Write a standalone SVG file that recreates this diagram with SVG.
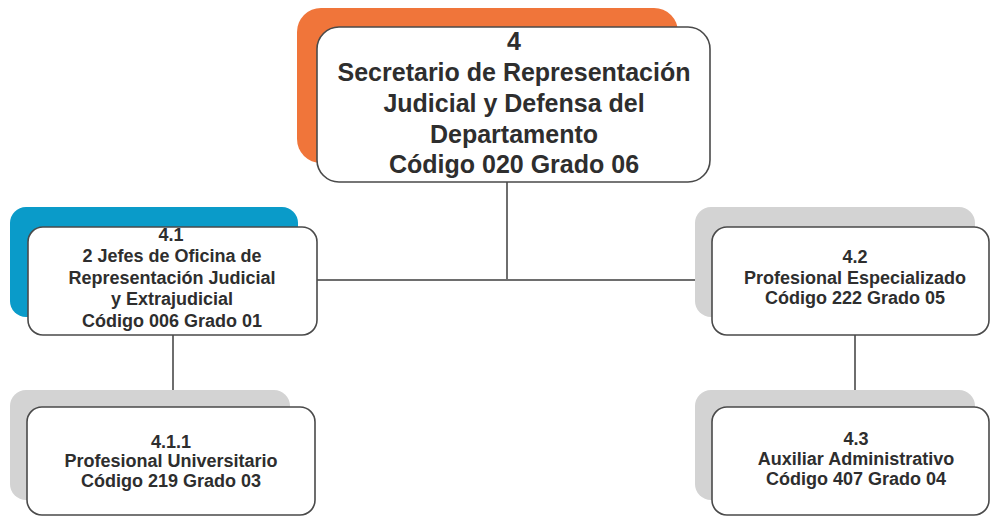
<svg xmlns="http://www.w3.org/2000/svg" width="991" height="516" viewBox="0 0 991 516">
  <style>
    .box { fill: #ffffff; stroke: #4a4a4a; stroke-width: 1.6; }
    .back-gray { fill: #d3d3d3; }
    .back-orange { fill: #f0753a; }
    .back-blue { fill: #0a9bc9; }
    .t { font-family: "Liberation Sans", Arial, sans-serif; font-weight: bold; fill: #2e2e2e; text-anchor: middle; }
    .big { font-size: 25px; }
    .small { font-size: 18px; }
    .conn { stroke: #6e6e6e; stroke-width: 2; fill: none; }
  </style>
  <rect width="991" height="516" fill="#ffffff"/>
  <g id="connectors">
    <line class="conn" x1="507" y1="182" x2="507" y2="280"/>
    <line class="conn" x1="317" y1="280" x2="695" y2="280"/>
    <line class="conn" x1="173" y1="335" x2="173" y2="390"/>
    <line class="conn" x1="855" y1="335" x2="855" y2="390"/>
  </g>
  <g id="node-4">
    <rect class="back-orange" x="297" y="8" width="381" height="155" rx="24"/>
    <rect class="box" x="317" y="27" width="393" height="155" rx="22"/>
    <text class="t big" x="514" y="50">4</text>
    <text class="t big" x="514" y="81">Secretario de Representación</text>
    <text class="t big" x="514" y="112">Judicial y Defensa del</text>
    <text class="t big" x="514" y="143">Departamento</text>
    <text class="t big" x="514" y="173">Código 020 Grado 06</text>
  </g>
  <g id="node-4-1">
    <rect class="back-blue" x="10" y="207" width="288" height="110" rx="16"/>
    <rect class="box" x="28" y="227" width="289" height="108" rx="15"/>
    <text class="t small" x="171" y="241">4.1</text>
    <text class="t small" x="172" y="262">2 Jefes de Oficina de</text>
    <text class="t small" x="172" y="284">Representación Judicial</text>
    <text class="t small" x="172" y="305">y Extrajudicial</text>
    <text class="t small" x="172" y="327">Código 006 Grado 01</text>
  </g>
  <g id="node-4-2">
    <rect class="back-gray" x="695" y="207" width="280" height="110" rx="16"/>
    <rect class="box" x="712" y="227" width="277" height="108" rx="15"/>
    <text class="t small" x="855" y="263">4.2</text>
    <text class="t small" x="855" y="284">Profesional Especializado</text>
    <text class="t small" x="855" y="304">Código 222 Grado 05</text>
  </g>
  <g id="node-4-1-1">
    <rect class="back-gray" x="10" y="390" width="280" height="110" rx="16"/>
    <rect class="box" x="27" y="407" width="288" height="108" rx="15"/>
    <text class="t small" x="171" y="448">4.1.1</text>
    <text class="t small" x="171" y="467">Profesional Universitario</text>
    <text class="t small" x="171" y="487">Código 219 Grado 03</text>
  </g>
  <g id="node-4-3">
    <rect class="back-gray" x="695" y="390" width="280" height="110" rx="16"/>
    <rect class="box" x="712" y="407" width="277" height="108" rx="15"/>
    <text class="t small" x="856" y="445">4.3</text>
    <text class="t small" x="856" y="465">Auxiliar Administrativo</text>
    <text class="t small" x="856" y="485">Código 407 Grado 04</text>
  </g>
</svg>
